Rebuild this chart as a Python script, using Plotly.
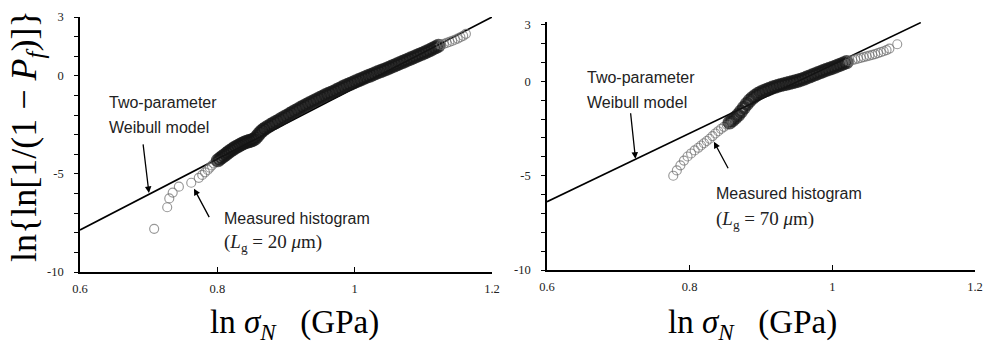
import plotly.graph_objects as go

# ---------------- data ----------------
# Left panel: Lg = 20 um
left_x = [0.708, 0.727, 0.730, 0.735, 0.744, 0.762, 0.773, 0.778, 0.782, 0.786,
          0.789, 0.792, 0.795, 0.798, 0.801, 0.804, 0.807, 0.810, 0.813, 0.816,
          0.819, 0.822, 0.825, 0.828, 0.831, 0.834, 0.837, 0.840, 0.843, 0.846,
          0.849, 0.852, 0.855, 0.858, 0.861, 0.864, 0.867, 0.870, 0.874, 0.878,
          0.882, 0.886, 0.890, 0.894, 0.898, 0.902, 0.906, 0.910, 0.914, 0.918,
          0.922, 0.926, 0.930, 0.934, 0.938, 0.942, 0.946, 0.950, 0.954, 0.958,
          0.962, 0.966, 0.970, 0.974, 0.978, 0.982, 0.986, 0.990, 0.994, 0.998,
          1.002, 1.006, 1.010, 1.014, 1.018, 1.022, 1.026, 1.030, 1.034, 1.038,
          1.042, 1.046, 1.050, 1.054, 1.058, 1.062, 1.066, 1.070, 1.074, 1.078,
          1.082, 1.086, 1.090, 1.094, 1.098, 1.102, 1.106, 1.110, 1.114, 1.118,
          1.122, 1.126, 1.130, 1.134, 1.138, 1.142, 1.146, 1.150, 1.154, 1.158,
          1.162]
left_y = [-7.80, -6.70, -6.25, -5.95, -5.65, -5.45, -5.20, -5.05, -4.92, -4.80,
          -4.68, -4.57, -4.47, -4.38, -4.30, -4.22, -4.14, -4.06, -3.98, -3.90,
          -3.82, -3.75, -3.68, -3.62, -3.56, -3.50, -3.45, -3.40, -3.36, -3.33,
          -3.30, -3.26, -3.20, -3.08, -2.95, -2.84, -2.75, -2.67, -2.58, -2.50,
          -2.42, -2.34, -2.26, -2.18, -2.10, -2.02, -1.94, -1.86, -1.78, -1.70,
          -1.62, -1.55, -1.47, -1.40, -1.33, -1.26, -1.19, -1.12, -1.05, -0.98,
          -0.92, -0.86, -0.80, -0.73, -0.66, -0.59, -0.52, -0.46, -0.40, -0.34,
          -0.28, -0.22, -0.16, -0.10, -0.04, 0.01, 0.07, 0.13, 0.19, 0.24,
          0.30, 0.35, 0.41, 0.47, 0.53, 0.59, 0.65, 0.71, 0.77, 0.83,
          0.89, 0.95, 1.01, 1.07, 1.13, 1.19, 1.25, 1.32, 1.39, 1.46,
          1.53, 1.58, 1.63, 1.68, 1.73, 1.78, 1.84, 1.90, 1.97, 2.04,
          2.14]
left_model_x = [0.6, 1.2]
left_model_y = [-7.86, 3.0]

# Right panel: Lg = 70 um
right_x = [0.777, 0.782, 0.787, 0.792, 0.797, 0.802, 0.807, 0.812, 0.816, 0.820,
           0.824, 0.828, 0.832, 0.836, 0.840, 0.844, 0.848, 0.852, 0.856, 0.860,
           0.864, 0.868, 0.872, 0.876, 0.880, 0.884, 0.888, 0.892, 0.896, 0.900,
           0.904, 0.908, 0.912, 0.916, 0.920, 0.924, 0.928, 0.932, 0.936, 0.940,
           0.944, 0.948, 0.952, 0.956, 0.960, 0.964, 0.968, 0.972, 0.976, 0.980,
           0.984, 0.988, 0.992, 0.996, 1.000, 1.004, 1.008, 1.012, 1.016, 1.020,
           1.024, 1.028, 1.032, 1.036, 1.040, 1.044, 1.048, 1.052, 1.056, 1.060,
           1.064, 1.068, 1.072, 1.076, 1.080, 1.091]
right_y = [-5.00, -4.72, -4.45, -4.20, -3.98, -3.82, -3.66, -3.52, -3.40, -3.28,
           -3.16, -3.04, -2.90, -2.76, -2.64, -2.52, -2.41, -2.30, -2.18, -2.06,
           -1.93, -1.78, -1.60, -1.40, -1.20, -1.02, -0.88, -0.76, -0.66, -0.58,
           -0.51, -0.45, -0.39, -0.33, -0.28, -0.23, -0.19, -0.15, -0.12, -0.08,
           -0.04, 0.00, 0.04, 0.09, 0.14, 0.20, 0.26, 0.32, 0.38, 0.44,
           0.50, 0.56, 0.62, 0.67, 0.72, 0.78, 0.84, 0.90, 0.96, 1.02,
           1.07, 1.12, 1.17, 1.21, 1.25, 1.29, 1.33, 1.37, 1.41, 1.45,
           1.50, 1.55, 1.60, 1.66, 1.74, 1.97]
right_model_x = [0.6, 1.124]
right_model_y = [-6.38, 3.12]

x_ticks = [0.6, 0.8, 1.0, 1.2]
x_tick_text = ["0.6", "0.8", "1", "1.2"]
y_ticks = [3, 0, -5, -10]
y_tick_text = ["3", "0", "-5", "-10"]

# x-span where the measured markers overlap into a dark band
left_band = (0.800, 1.122)
right_band = (0.856, 1.022)

# ---------------- figure ----------------
# the page body has an 8px margin on every side, so the figure sits at
# (8, 8) and is sized so the page does not overflow the 992x351 window
OX, OY = 8, 8
W, H = 992 - 2 * OX, 351 - 2 * OY


def PX(px):
    return (px - OX) / W


def PY(py):
    return 1 - (py - OY) / H


fig = go.Figure()


def marker_for(xs, band):
    inb = [band[0] <= v <= band[1] for v in xs]
    cols = ["#161616" if b else "#6c6c6c" for b in inb]
    wids = [3.6 if b else 1.15 for b in inb]
    sizes = [10.5 if b else 9 for b in inb]
    return dict(symbol="circle-open", size=sizes, color=cols,
                line=dict(width=wids, color=cols))


fig.add_trace(go.Scatter(x=left_model_x, y=left_model_y, mode="lines",
                         line=dict(color="black", width=1.6),
                         xaxis="x", yaxis="y", showlegend=False))
fig.add_trace(go.Scatter(x=left_x, y=left_y, mode="markers",
                         marker=marker_for(left_x, left_band),
                         xaxis="x", yaxis="y", showlegend=False))
fig.add_trace(go.Scatter(x=right_model_x, y=right_model_y, mode="lines",
                         line=dict(color="black", width=1.6),
                         xaxis="x2", yaxis="y2", showlegend=False))
fig.add_trace(go.Scatter(x=right_x, y=right_y, mode="markers",
                         marker=marker_for(right_x, right_band),
                         xaxis="x2", yaxis="y2", showlegend=False))

tick_font = dict(family="Liberation Serif", size=12.5, color="#222")


def xaxis(domain, anchor):
    return dict(domain=domain, anchor=anchor, range=[0.6, 1.2],
                tickvals=x_ticks, ticktext=x_tick_text, ticks="inside",
                ticklen=5, tickwidth=1.2, tickcolor="black",
                showline=True, linecolor="black", linewidth=1.5,
                showgrid=False, zeroline=False, tickfont=tick_font,
                ticklabelstandoff=4, automargin=False)


def yaxis(domain, anchor, rng):
    return dict(domain=domain, anchor=anchor, range=rng,
                tickvals=y_ticks, ticktext=y_tick_text, ticks="outside",
                ticklen=4, tickwidth=1.2, tickcolor="black",
                minor=dict(dtick=1, tick0=0, ticks="outside", ticklen=4,
                           tickwidth=1, tickcolor="black"),
                showline=True, linecolor="black", linewidth=1.5,
                showgrid=False, zeroline=False, tickfont=tick_font,
                ticklabelstandoff=8, automargin=False)


fig.update_layout(
    width=W, height=H,
    margin=dict(l=0, r=0, t=0, b=0, autoexpand=False),
    paper_bgcolor="white", plot_bgcolor="white",
    xaxis=xaxis([PX(80), PX(492)], "y"),
    yaxis=yaxis([PY(272), PY(17)], "x", [-10, 3]),
    xaxis2=xaxis([PX(547), PX(975)], "y2"),
    yaxis2=yaxis([PY(270), PY(22)], "x2", [-10, 3.15]),
)

ann = []
sans = dict(family="Liberation Sans", size=16, color="#222")
serif = dict(family="Liberation Serif", size=19, color="#222")


def ptext(px, py, text, font, xanchor="left"):
    ann.append(dict(x=PX(px), y=PY(py), xref="paper", yref="paper",
                    text=text, showarrow=False, font=font,
                    xanchor=xanchor, yanchor="middle"))


# left panel texts
ptext(107, 103, "Two-parameter", sans)
ptext(107, 127, "Weibull model", sans)
ptext(222, 218, "Measured histogram", sans)
ptext(222, 243, "(<i>L</i><sub>g</sub> = 20 <i>μ</i>m)", serif)
# right panel texts
ptext(585, 77, "Two-parameter", sans)
ptext(585, 102, "Weibull model", sans)
ptext(714, 193, "Measured histogram", sans)
ptext(714, 220, "(<i>L</i><sub>g</sub> = 70 <i>μ</i>m)", serif)


def arrow(xr, yr, x, y, ax, ay):
    ann.append(dict(x=x, y=y, xref=xr, yref=yr, ax=ax, ay=ay,
                    axref="pixel", ayref="pixel", text="", showarrow=True,
                    arrowhead=2, arrowsize=1.0, arrowwidth=1.3,
                    arrowcolor="black"))


arrow("x", "y", 0.7004, -5.97, -6, -50)
arrow("x", "y", 0.766, -5.75, 16, 30)
arrow("x2", "y2", 0.724, -4.1, -5, -47)
arrow("x2", "y2", 0.834, -3.2, 15, 28)

# axis titles
title_font = dict(family="Liberation Serif", size=33, color="black")
xt = "ln <i>σ</i><sub><i>N</i></sub>\u00a0\u00a0\u00a0(GPa)"
ptext(294, 324, xt, title_font, xanchor="center")
ptext(752, 324, xt, title_font, xanchor="center")
ann.append(dict(x=PX(27), y=PY(136), xref="paper", yref="paper",
                text="ln{ln[1/(1\u00a0−\u00a0<i>P</i><sub><i>f</i></sub>)]}",
                showarrow=False, textangle=-90,
                font=dict(family="Liberation Serif", size=36, color="black"),
                xanchor="center", yanchor="middle"))

fig.update_layout(annotations=ann)
fig.write_html("out.html")
